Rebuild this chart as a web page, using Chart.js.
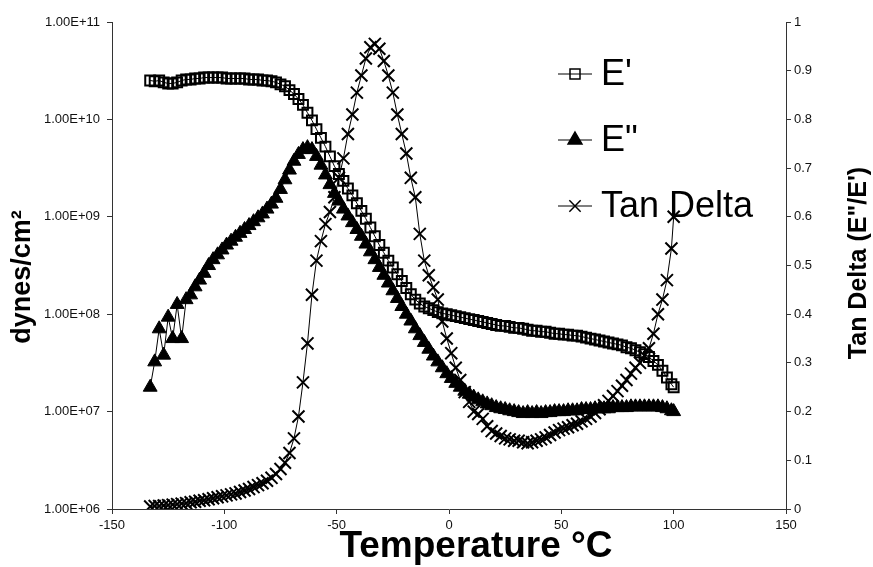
<!DOCTYPE html>
<html>
<head>
<meta charset="utf-8">
<script src="https://cdn.jsdelivr.net/npm/chart.js@4.4.0/dist/chart.umd.min.js"></script>
<style>
  html, body { margin: 0; padding: 0; background: #fff; }
  #wrap { width: 873px; height: 567px; }
</style>
</head>
<body>
<div id="wrap"><canvas id="c" width="873" height="567"></canvas></div>
<script>
// ---------------- DATA ----------------
const temperature = [
  -133,-131,-129,-127,-125,-123,-121,-119,-117,-115,
  -113,-111,-109,-107,-105,-103,-101,-99,-97,-95,
  -93,-91,-89,-87,-85,-83,-81,-79,-77,-75,
  -73,-71,-69,-67,-65,-63,-61,-59,-57,-55,
  -53,-51,-49,-47,-45,-43,-41,-39,-37,-35,
  -33,-31,-29,-27,-25,-23,-21,-19,-17,-15,
  -13,-11,-9,-7,-5,-3,-1,1,3,5,
  7,9,11,13,15,17,19,21,23,25,
  27,29,31,33,35,37,39,41,43,45,
  47,49,51,53,55,57,59,61,63,65,
  67,69,71,73,75,77,79,81,83,85,
  87,89,91,93,95,97,99,100
];

const storageModulus = [ // E' (dynes/cm2)
  2.51e10,2.46e10,2.51e10,2.40e10,2.34e10,2.34e10,2.40e10,2.51e10,2.57e10,2.57e10,
  2.63e10,2.63e10,2.69e10,2.69e10,2.69e10,2.69e10,2.69e10,2.63e10,2.63e10,2.63e10,
  2.63e10,2.63e10,2.57e10,2.57e10,2.57e10,2.51e10,2.51e10,2.46e10,2.40e10,2.29e10,
  2.19e10,2.00e10,1.82e10,1.62e10,1.41e10,1.17e10,9.77e9,7.94e9,6.46e9,5.25e9,
  4.17e9,3.31e9,2.75e9,2.34e9,1.95e9,1.66e9,1.38e9,1.15e9,9.55e8,7.76e8,
  6.31e8,5.13e8,4.27e8,3.55e8,3.02e8,2.57e8,2.19e8,1.86e8,1.60e8,1.41e8,
  1.29e8,1.20e8,1.15e8,1.10e8,1.05e8,1.02e8,1.00e8,9.77e7,9.55e7,9.33e7,
  9.12e7,8.91e7,8.71e7,8.51e7,8.32e7,8.13e7,7.94e7,7.76e7,7.59e7,7.59e7,
  7.41e7,7.24e7,7.24e7,7.08e7,6.92e7,6.76e7,6.76e7,6.61e7,6.61e7,6.46e7,
  6.31e7,6.31e7,6.17e7,6.17e7,6.03e7,6.03e7,5.89e7,5.75e7,5.62e7,5.50e7,
  5.37e7,5.25e7,5.13e7,5.01e7,4.90e7,4.79e7,4.57e7,4.47e7,4.27e7,4.07e7,
  3.89e7,3.63e7,3.31e7,3.02e7,2.63e7,2.24e7,1.91e7,1.78e7
];

const lossModulus = [ // E'' (dynes/cm2)
  1.78e7,3.24e7,7.08e7,3.80e7,9.33e7,5.62e7,1.26e8,5.62e7,1.41e8,1.58e8,
  1.91e8,2.24e8,2.63e8,3.16e8,3.63e8,4.07e8,4.57e8,5.13e8,5.62e8,6.17e8,
  6.76e8,7.41e8,8.13e8,8.91e8,9.77e8,1.07e9,1.20e9,1.35e9,1.55e9,1.91e9,
  2.40e9,3.02e9,3.72e9,4.37e9,4.90e9,5.13e9,4.90e9,4.17e9,3.39e9,2.69e9,
  2.14e9,1.74e9,1.45e9,1.20e9,1.02e9,8.71e8,7.41e8,6.31e8,5.25e8,4.37e8,
  3.63e8,3.02e8,2.51e8,2.09e8,1.74e8,1.45e8,1.20e8,1.00e8,8.51e7,7.08e7,
  6.03e7,5.13e7,4.37e7,3.72e7,3.24e7,2.82e7,2.45e7,2.19e7,1.95e7,1.78e7,
  1.62e7,1.51e7,1.41e7,1.32e7,1.26e7,1.20e7,1.15e7,1.10e7,1.07e7,1.05e7,
  1.02e7,1.00e7,9.77e6,9.55e6,9.77e6,9.55e6,9.77e6,9.55e6,9.77e6,9.77e6,
  1.00e7,1.00e7,1.00e7,1.02e7,1.02e7,1.02e7,1.05e7,1.05e7,1.05e7,1.07e7,
  1.07e7,1.07e7,1.07e7,1.10e7,1.10e7,1.10e7,1.10e7,1.12e7,1.12e7,1.12e7,
  1.12e7,1.12e7,1.12e7,1.12e7,1.10e7,1.07e7,1.02e7,1.00e7
];

const tanDelta = [ // E''/E'
  0.005,0.006,0.006,0.007,0.008,0.009,0.010,0.011,0.012,0.014,
  0.015,0.017,0.018,0.020,0.022,0.024,0.026,0.028,0.030,0.032,
  0.035,0.038,0.041,0.045,0.049,0.053,0.058,0.064,0.072,0.082,
  0.095,0.115,0.145,0.19,0.26,0.34,0.44,0.51,0.55,0.585,
  0.61,0.64,0.68,0.72,0.77,0.81,0.855,0.89,0.925,0.948,
  0.955,0.945,0.92,0.89,0.855,0.81,0.77,0.73,0.68,0.64,
  0.565,0.51,0.48,0.455,0.43,0.385,0.35,0.32,0.29,0.265,
  0.24,0.22,0.20,0.195,0.185,0.17,0.16,0.155,0.15,0.145,
  0.143,0.14,0.14,0.137,0.135,0.137,0.14,0.143,0.147,0.152,
  0.157,0.162,0.165,0.168,0.172,0.175,0.18,0.185,0.19,0.197,
  0.205,0.213,0.222,0.232,0.242,0.253,0.265,0.278,0.29,0.30,
  0.315,0.33,0.36,0.40,0.43,0.47,0.535,0.60
];

const seriesLabels = ["E'", 'E"', 'Tan Delta'];
const xTickValues = [-150, -100, -50, 0, 50, 100, 150];
const xTickLabels = ['-150', '-100', '-50', '0', '50', '100', '150'];
const leftTickValues = [1e6, 1e7, 1e8, 1e9, 1e10, 1e11];
const leftTickLabels = ['1.00E+06', '1.00E+07', '1.00E+08', '1.00E+09', '1.00E+10', '1.00E+11'];
const rightTickValues = [0, 0.1, 0.2, 0.3, 0.4, 0.5, 0.6, 0.7, 0.8, 0.9, 1];
const rightTickLabels = ['0', '0.1', '0.2', '0.3', '0.4', '0.5', '0.6', '0.7', '0.8', '0.9', '1'];
const xTitle = 'Temperature °C';
const leftTitle = 'dynes/cm²';
const rightTitle = 'Tan Delta (E"/E\')';

// ---------------- CHART ----------------
const FONT = "'Liberation Sans', Arial, Helvetica, sans-serif";
const toPts = (ys) => temperature.map((t, i) => ({ x: t, y: ys[i] }));

function drawMarker(ctx, style, x, y, r, fill) {
  ctx.beginPath();
  if (style === 'rect') {
    const s = r * Math.SQRT1_2;
    ctx.rect(x - s, y - s, 2 * s, 2 * s);
    if (fill) ctx.fill();
    ctx.stroke();
  } else if (style === 'triangle') {
    ctx.moveTo(x, y - r);
    ctx.lineTo(x + r * 0.866, y + r * 0.5);
    ctx.lineTo(x - r * 0.866, y + r * 0.5);
    ctx.closePath();
    if (fill) ctx.fill();
    ctx.stroke();
  } else {
    const s = r * Math.SQRT1_2;
    ctx.moveTo(x - s, y - s); ctx.lineTo(x + s, y + s);
    ctx.moveTo(x + s, y - s); ctx.lineTo(x - s, y + s);
    ctx.stroke();
  }
}

function rotatedText(ctx, text, x, y, font) {
  ctx.save();
  ctx.translate(x, y);
  ctx.rotate(-Math.PI / 2);
  ctx.font = font;
  ctx.fillStyle = '#000';
  ctx.textAlign = 'center';
  ctx.textBaseline = 'middle';
  ctx.fillText(text, 0, 0);
  ctx.restore();
}

const extras = {
  id: 'extras',
  afterDraw(chart) {
    const ctx = chart.ctx;
    const rows = [74, 140, 206];
    chart.data.datasets.forEach((ds, i) => {
      const y = rows[i];
      ctx.save();
      ctx.strokeStyle = '#000';
      ctx.fillStyle = '#000';
      ctx.lineWidth = 1.2;
      ctx.beginPath(); ctx.moveTo(558, y); ctx.lineTo(592, y); ctx.stroke();
      if (ds.pointStyle === 'rect') {
        const s = 5;
        ctx.fillStyle = '#fff';
        ctx.fillRect(575 - s, y - s, 2 * s, 2 * s);
        ctx.lineWidth = 1.5;
        ctx.strokeRect(575 - s, y - s, 2 * s, 2 * s);
        ctx.lineWidth = 1;
        ctx.beginPath(); ctx.moveTo(575 - s, y); ctx.lineTo(575 + s, y); ctx.stroke();
      } else {
        ctx.lineWidth = 1.5;
        drawMarker(ctx, ds.pointStyle, 575, y, 8, ds.pointStyle === 'triangle');
      }
      ctx.fillStyle = '#000';
      ctx.font = '36px ' + FONT;
      ctx.textAlign = 'left';
      ctx.textBaseline = 'middle';
      ctx.fillText(ds.label, 601, y + 1);
      ctx.restore();
    });
    // axis titles
    rotatedText(ctx, leftTitle, 23, 277, 'bold 27px ' + FONT);
    rotatedText(ctx, rightTitle, 859, 263, 'bold 25px ' + FONT);
    ctx.save();
    ctx.font = 'bold 37px ' + FONT;
    ctx.fillStyle = '#000';
    ctx.textAlign = 'center';
    ctx.textBaseline = 'alphabetic';
    ctx.fillText(xTitle, 476, 557);
    ctx.restore();
  }
};

const axisLine = { display: true, color: '#333', width: 1 };
const tickGrid = { display: true, drawOnChartArea: false, drawTicks: true, tickLength: 5, color: '#333' };
const tickFont = { family: FONT, size: 13 };

new Chart(document.getElementById('c'), {
  type: 'line',
  data: {
    datasets: [
      {
        label: seriesLabels[0], data: toPts(storageModulus), yAxisID: 'y',
        borderColor: '#000', borderWidth: 1, pointStyle: 'rect', pointRadius: 7,
        pointBackgroundColor: 'rgba(0,0,0,0)', pointBorderColor: '#000', pointBorderWidth: 2,
        tension: 0
      },
      {
        label: seriesLabels[1], data: toPts(lossModulus), yAxisID: 'y',
        borderColor: '#000', borderWidth: 1, pointStyle: 'triangle', pointRadius: 8,
        pointBackgroundColor: '#000', pointBorderColor: '#000', pointBorderWidth: 1,
        tension: 0
      },
      {
        label: seriesLabels[2], data: toPts(tanDelta), yAxisID: 'y1',
        borderColor: '#000', borderWidth: 1, pointStyle: 'crossRot', pointRadius: 8.5,
        pointBackgroundColor: '#000', pointBorderColor: '#000', pointBorderWidth: 2,
        tension: 0
      }
    ]
  },
  options: {
    responsive: false,
    animation: false,
    devicePixelRatio: 1,
    layout: { padding: { top: 22, left: 0, right: 0, bottom: 0 } },
    plugins: { legend: { display: false }, tooltip: { enabled: false } },
    scales: {
      x: {
        type: 'linear', position: 'bottom', min: -150, max: 150,
        afterFit: (s) => { s.height = 58; },
        afterBuildTicks: (s) => { s.ticks = xTickValues.map(v => ({ value: v })); },
        ticks: {
          font: tickFont, color: '#111', padding: 4, maxRotation: 0, autoSkip: false,
          callback: (v) => xTickLabels[xTickValues.indexOf(v)]
        },
        grid: tickGrid, border: axisLine,
        title: { display: false }
      },
      y: {
        type: 'logarithmic', position: 'left', min: 1e6, max: 1e11,
        afterFit: (s) => { s.width = 112; },
        afterBuildTicks: (s) => { s.ticks = leftTickValues.map(v => ({ value: v })); },
        ticks: {
          font: tickFont, color: '#111', padding: 7, autoSkip: false,
          callback: (v) => leftTickLabels[leftTickValues.indexOf(v)]
        },
        grid: tickGrid, border: axisLine,
        title: { display: false }
      },
      y1: {
        type: 'linear', position: 'right', min: 0, max: 1,
        afterFit: (s) => { s.width = 87; },
        afterBuildTicks: (s) => { s.ticks = rightTickValues.map(v => ({ value: v })); },
        ticks: {
          font: tickFont, color: '#111', padding: 3, autoSkip: false,
          callback: (v) => rightTickLabels[rightTickValues.indexOf(v)]
        },
        grid: tickGrid, border: axisLine,
        title: { display: false }
      }
    }
  },
  plugins: [extras]
});
</script>
</body>
</html>
